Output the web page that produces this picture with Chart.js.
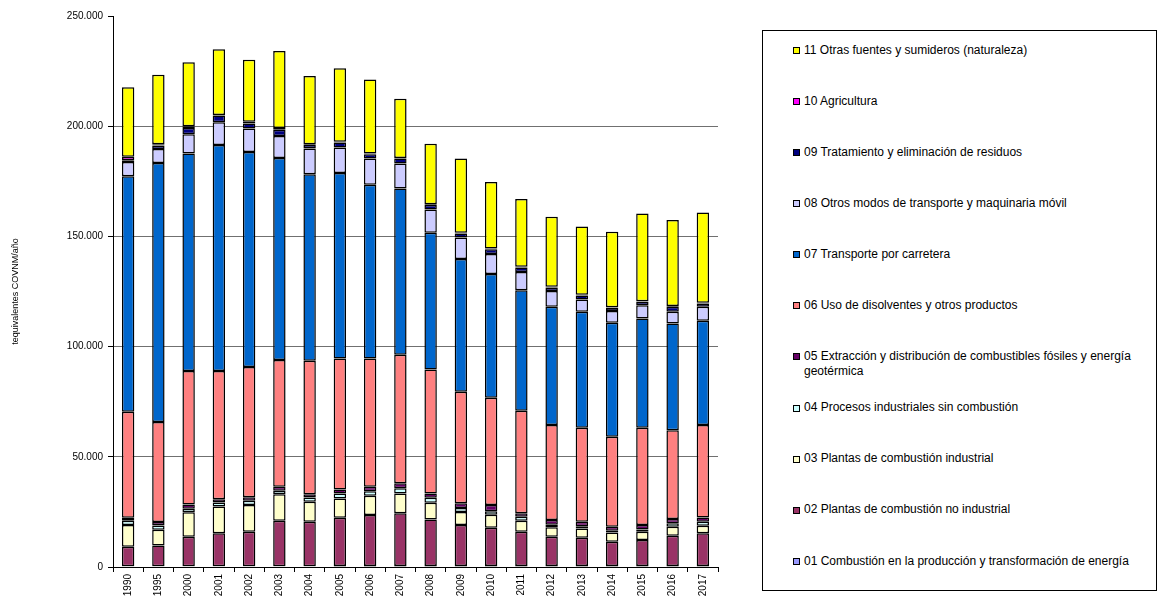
<!DOCTYPE html>
<html>
<head>
<meta charset="utf-8">
<script src="https://cdn.jsdelivr.net/npm/chart.js@4.4.1/dist/chart.umd.min.js"></script>
<style>
  html, body { margin: 0; padding: 0; background: #fff; }
  body { width: 1162px; height: 596px; position: relative; overflow: hidden; font-family: "Liberation Sans", Arial, sans-serif; }
  #wrap { position: absolute; left: 0; top: 0; width: 730px; height: 596px; }
  #legend { position: absolute; left: 762px; top: 30px; width: 395px; height: 561px; border: 1px solid #000; box-sizing: border-box; }
  .item { position: absolute; left: 0; width: 394px; }
  .sw { position: absolute; left: 30px; width: 5px; height: 5px; border: 1px solid #000; }
  .tx { position: absolute; left: 41px; width: 345px; font-size: 12px; line-height: 14.7px; color: #000; }
</style>
</head>
<body>
<div id="wrap"><canvas id="c" width="730" height="596"></canvas></div>
<div id="legend"></div>
<script>
const years = ['1990','1995','2000','2001','2002','2003','2004','2005','2006','2007','2008','2009','2010','2011','2012','2013','2014','2015','2016','2017'];

const seriesNames = [
  '01 Combustión en la producción y transformación de energía',
  '02 Plantas de combustión no industrial',
  '03 Plantas de combustión industrial',
  '04 Procesos industriales sin combustión',
  '05 Extracción y distribución de combustibles fósiles y energía geotérmica',
  '06 Uso de disolventes y otros productos',
  '07 Transporte por carretera',
  '08 Otros modos de transporte y maquinaria móvil',
  '09 Tratamiento y eliminación de residuos',
  '10 Agricultura',
  '11 Otras fuentes y sumideros (naturaleza)'
];

const s01 = [300,300,300,300,300,300,300,500,500,500,400,400,400,400,400,400,400,400,400,400];
const s02 = [8900,9400,13400,15000,15700,20700,20200,21900,23100,23900,21200,18600,17400,15600,13300,12900,11100,11800,13800,14900];
const s03 = [9900,7200,11100,12100,12100,12000,9100,8700,8700,9000,7600,6000,5900,5000,4300,4200,4200,3800,4100,3400];
const s04 = [1900,1900,1600,1900,2000,1600,1900,2200,2100,2300,2200,1800,1600,1800,1200,1000,800,1000,1500,1800];
const s05 = [1400,1600,2000,1400,1500,1800,1500,1900,2000,2300,2000,2100,2800,1600,2100,2000,1800,2000,2000,2000];
const s06 = [48000,45400,60500,58200,59200,57500,60600,59400,58200,58300,56200,50600,48700,46500,43100,42700,40800,44200,40300,41900];
const s07 = [106900,117500,98700,102600,97500,91700,84600,84200,78800,75400,62000,60200,56100,54700,53700,52600,51700,49600,48400,47300];
const s08 = [6500,6400,8800,10300,10700,10000,11700,11500,11900,11400,10600,9800,9100,8300,7100,5600,5300,6000,5300,6400];
const s09 = [800,1500,2800,3000,2200,2800,1600,2300,2000,2200,2100,1800,2200,2000,1600,1800,1500,1500,2300,1500];
const s10 = [1500,600,800,300,800,800,300,300,300,300,300,300,300,300,300,300,300,300,300,300];
const s11 = [31600,31500,29000,29800,28200,34900,31000,33400,33600,26800,27400,33700,30200,30800,31800,31000,34200,39800,39000,41000];

const seriesColors = ['#9999FF','#993366','#FFFFCC','#CCFFFF','#660066','#FF8080','#0066CC','#CCCCFF','#000080','#FF00FF','#FFFF00'];

const yTicks = [0, 50000, 100000, 150000, 200000, 250000];
const yTitle = 'tequivalentes COVNM/año';

const allSeries = [s01,s02,s03,s04,s05,s06,s07,s08,s09,s10,s11];

const datasets = allSeries.map((d, i) => ({
  label: seriesNames[i],
  data: d,
  backgroundColor: seriesColors[i],
  borderColor: '#000',
  borderWidth: 1.5,
  borderSkipped: false,
  categoryPercentage: 1.0,
  barPercentage: 0.41
}));

const fmt = v => String(v).replace(/\B(?=(\d{3})+(?!\d))/g, '.');

new Chart(document.getElementById('c'), {
  type: 'bar',
  data: { labels: years, datasets: datasets },
  options: {
    responsive: false,
    animation: false,
    devicePixelRatio: 1,
    layout: { padding: { left: 0, top: 16, right: 12, bottom: 0 } },
    plugins: { legend: { display: false }, tooltip: { enabled: false } },
    scales: {
      x: {
        stacked: true,
        afterFit: s => { s.height = 29; },
        grid: { drawOnChartArea: false, drawTicks: true, tickLength: 5, color: '#000', offset: true },
        border: { color: '#000', width: 1 },
        ticks: {
          font: { family: 'Liberation Sans', size: 10 },
          color: '#000',
          minRotation: 90,
          maxRotation: 90,
          padding: 2,
          autoSkip: false
        }
      },
      y: {
        stacked: true,
        min: 0,
        max: 250000,
        afterFit: s => { s.width = 113; },
        afterBuildTicks: s => { s.ticks = yTicks.map(v => ({ value: v })); },
        grid: {
          color: ctx => (ctx.tick && (ctx.tick.value === 0 || ctx.tick.value === 250000)) ? 'rgba(0,0,0,0)' : '#707070',
          tickColor: '#000',
          tickLength: 5,
          lineWidth: 1
        },
        border: { color: '#000', width: 1 },
        ticks: {
          font: { family: 'Liberation Sans', size: 10 },
          color: '#000',
          padding: 5,
          callback: v => fmt(v)
        },
        title: {
          display: true,
          text: yTitle,
          font: { family: 'Liberation Sans', size: 9 },
          color: '#000',
          padding: { top: 10, bottom: 0 }
        }
      }
    }
  }
});

// HTML legend (11 at top down to 01)
const legend = document.getElementById('legend');
const order = seriesNames.map((n, i) => i).reverse();
order.forEach((idx, k) => {
  const center = 19.3 + k * 51.1; // first-line center, relative to legend box top
  const item = document.createElement('div');
  item.className = 'item';
  item.style.top = '0px';
  const sw = document.createElement('div');
  sw.className = 'sw';
  sw.style.background = seriesColors[idx];
  sw.style.top = (center - 3.5) + 'px';
  const tx = document.createElement('div');
  tx.className = 'tx';
  tx.style.top = (center - 7.8) + 'px';
  tx.textContent = seriesNames[idx];
  item.appendChild(sw);
  item.appendChild(tx);
  legend.appendChild(item);
});
</script>
</body>
</html>
